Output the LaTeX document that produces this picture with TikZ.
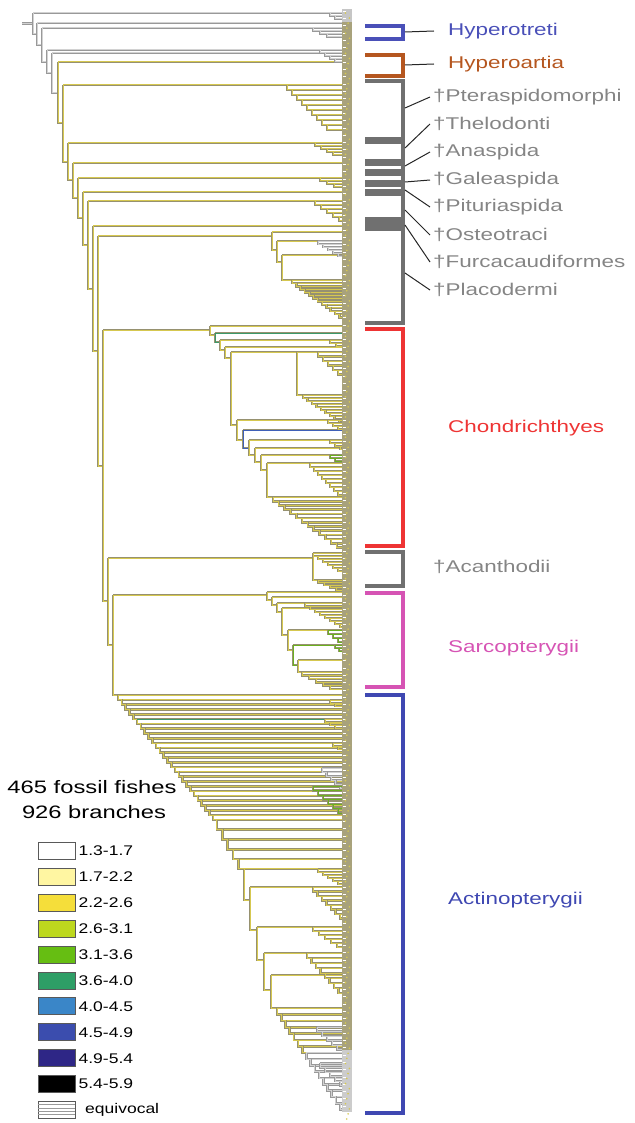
\documentclass[tikz,border=0pt]{standalone}
\usepackage{fontspec}
\setmainfont{Liberation Sans}
\newfontfamily\labfont{Liberation Sans}[FakeStretch=1.32]
\newfontfamily\keyfont{Liberation Sans}[FakeStretch=1.25]
\usetikzlibrary{positioning}

% branch and clade colours
\definecolor{olv}{HTML}{969170}
\definecolor{ylw}{HTML}{D6C850}
\definecolor{tealb}{HTML}{3C9A6A}
\definecolor{grnb}{HTML}{6CB020}
\definecolor{blub}{HTML}{3F60B8}
\definecolor{tipc}{HTML}{A8A27C}
\definecolor{hypc}{HTML}{4A50B8}
\definecolor{lampc}{HTML}{B5561F}
\definecolor{agc}{HTML}{707070}
\definecolor{agt}{HTML}{858585}
\definecolor{chc}{HTML}{EE3434}
\definecolor{sarc}{HTML}{D654B4}
\definecolor{actc}{HTML}{3F48B2}
% legend colours
\definecolor{ka}{HTML}{FFF6A2}
\definecolor{kb}{HTML}{F5DE3A}
\definecolor{kc}{HTML}{BDD81E}
\definecolor{kd}{HTML}{66BE12}
\definecolor{ke}{HTML}{2E9E66}
\definecolor{kf}{HTML}{3A86C8}
\definecolor{kg}{HTML}{3B4DAE}
\definecolor{kh}{HTML}{2E2686}

\newcommand{\tipx}{345}
% staircase clade: [style] x0, y0, steps, dx, dy
\newcommand{\comb}[6][br]{%
  \foreach \ci in {0,...,#4}{%
    \draw[#1] ({#2+\ci*#5},{#3+\ci*#6}) -- (\tipx,{#3+\ci*#6});}%
  \draw[#1] (#2,#3) \foreach \ci in {1,...,#4}{ |- ({#2+\ci*#5},{#3+\ci*#6}) };%
}
% backbone: x/top/bottom/end of top child/next x/style
\newcommand{\spine}[1]{%
  \foreach \sx/\st/\sb/\se/\sn/\ss in {#1}{%
    \draw[\ss] (\sx,\st) -- (\se,\st);
    \draw[\ss] (\sx,\st) -- (\sx,\sb) -- (\sn,\sb);
  }}

\begin{document}
\begin{tikzpicture}[x=1pt,y=-1pt,
  br/.style={draw=olv,double=ylw,double distance=1pt,line width=0.8pt},
  brg/.style={draw=gray!80,double=gray!35,double distance=1pt,line width=0.8pt},
  brt/.style={draw=olv,double=tealb,double distance=1pt,line width=0.8pt},
  brn/.style={draw=olv,double=grnb,double distance=1pt,line width=0.8pt},
  brb/.style={draw=olv,double=blub,double distance=1pt,line width=0.8pt},
  clade/.style={line width=4pt},
  lead/.style={line width=1pt,black!85},
  lab/.style={font=\labfont\fontsize{17}{20}\selectfont,anchor=west,inner sep=0pt},
  keybox/.style={draw=black!65,line width=0.9pt,minimum width=37pt,minimum height=17pt,inner sep=0pt},
  keytxt/.style={font=\keyfont\fontsize{14}{16}\selectfont,inner sep=0pt},
  keyhead/.style={font=\labfont\fontsize{18}{21}\selectfont,inner sep=0pt}]
\useasboundingbox (0,0) rectangle (634,1123);

% root and main backbone
\draw[brg] (22,23.5) -- (33,23.5);
\spine{33/13/34/345/37/brg, 37/23/45/345/42/brg, 42/28/62/313/47/brg,
  47/50/73/320/52/brg, 52/53/93/345/58/brg, 58/62/123/345/63/br,
  63/85/162/287/68/br, 68/143/180/315/73/br, 73/163/198/345/78/br,
  78/178/218/320/83/br, 83/192/245/345/88/br, 88/201/289/315/93/br,
  93/226/351/345/98/br, 98/236/466/272/103/br, 103/330/601/210/108/br,
  108/558/645/313/113/br, 113/595/695/267/118/br}

% agnathans
\comb[brg]{330}{13}{2}{5}{3}
\comb[brg]{313}{28}{3}{7}{3}
\comb[brg]{320}{50}{4}{5}{3}
\comb{287}{85}{9}{5}{5}
\comb{315}{143}{4}{6}{3}
\comb{320}{178}{3}{7}{3}
\comb{315}{201}{5}{6}{4}
\spine{272/232/250/345/277/br, 277/241/262/318/282/br, 282/255/280/345/292/br}
\comb[brg]{318}{241}{5}{5}{3}
\comb{292}{280}{12}{4.3}{3.1}

% Chondrichthyes
\spine{210/326/335/345/215/br, 215/333/342/345/220/brt, 220/340/350/330/225/br,
  225/347/358/345/231/br, 231/352/425/297/237/br, 237/420/440/328/243/br,
  243/430/448/345/249/brb, 249/440/455/330/255/br, 255/448/462/345/261/br,
  261/455/470/330/267/br, 267/463/497/310/273/br}
\draw[br] (297,352) -- (318,352);
\comb{318}{352}{5}{5}{4.5}
\draw[br] (297,352) |- (303,395);
\comb{303}{395}{9}{4.5}{3}
\comb{330}{340}{2}{6}{3}
\comb{328}{420}{3}{5}{3}
\comb{330}{440}{3}{5}{3}
\comb[brn]{330}{455}{2}{5}{3}
\comb{310}{463}{8}{4}{4}
\comb{273}{497}{12}{5.8}{4.2}

% Acanthodii
\draw[br] (313,553) -- (313,580) -- (318,580);
\comb{313}{553}{6}{5}{3}
\comb{318}{580}{4}{6}{2.5}

% Sarcopterygii
\spine{267/592/600/345/272/br, 272/597/605/345/277/br, 277/603/612/305/282/br,
  282/608/635/345/288/br, 288/630/650/328/293/br, 293/645/665/335/298/brn,
  298/660/672/345/302/br}
\comb{305}{603}{8}{5}{3}
\comb[brn]{328}{630}{3}{5}{4}
\comb[brn]{335}{645}{2}{4}{3}
\comb{302}{672}{5}{7}{3.4}

% Actinopterygii
\comb{118}{695}{26}{3.8}{4.8}
\draw[brt] (137,719) -- (\tipx,719);
\comb{330}{700}{2}{5}{3}
\comb{325}{719}{3}{5}{3}
\comb{333}{743}{2}{5}{3}
\comb[brg]{322}{768}{5}{4.5}{4}
\comb[brn]{313}{786}{6}{5}{4.5}
\comb{216.8}{819.8}{5}{5.4}{9.8}
\draw[br] (244,869) -- (244,900) -- (250,900);
\spine{250/887/930/313/257/br, 257/927/960/313/264/br,
  264/953/990/307/271/br, 271/975/1008/345/277/br}
\comb{318}{869}{5}{5}{3}
\comb{313}{887}{7}{4.5}{4.5}
\comb{313}{927}{5}{6}{4}
\comb{307}{953}{8}{4.5}{5}
\comb{277}{1008}{7}{4.2}{6.4}
\comb[brg]{306.4}{1052.8}{9}{4.2}{6.3}
\comb[brg]{317}{1027}{5}{5}{4.5}
\comb[brg]{320}{1063}{5}{5}{4.5}

% tip band
\fill[tipc] (342,9) rectangle (352,1112);
\fill[gray!45] (342,9) rectangle (352,22);
\fill[gray!40] (342,1050) rectangle (352,1112);
\foreach \k in {0,...,150}
  \draw[white,line width=0.5pt] (342.5,{11+\k*7.3}) -- ++(3.5,0);
\foreach \k in {0,...,219}
  \fill[ylw] ({345.5+mod(\k*3,4)*1.3},{13+\k*5.05}) circle (0.9pt);

% clade brackets and names
\draw[clade,hypc] (365,26) -| (403,39) -- (365,39);
\draw[clade,lampc] (365,55) -| (403,76) -- (365,76);
\foreach \ta/\tb in {81/139,142/161,164/171,174/182,185/191,194/219,222/226,229/323}
  \draw[clade,agc] (365,\ta) -| (403,\tb) -- (365,\tb);
\draw[clade,chc] (365,329) -| (403,546) -- (365,546);
\draw[clade,agc] (365,552) -| (403,586) -- (365,586);
\draw[clade,sarc] (365,593) -| (403,687) -- (365,687);
\draw[clade,actc] (365,695) -| (403,1113) -- (365,1113);

\node[lab,text=hypc] (hyo) at (448,31) {Hyperotreti};
\node[lab,text=lampc] (hya) at (448,64) {Hyperoartia};
\node[lab,text=agt] (ptr) at (433,97) {†Pteraspidomorphi};
\node[lab,text=agt] (thl) at (433,124) {†Thelodonti};
\node[lab,text=agt] (ana) at (433,152) {†Anaspida};
\node[lab,text=agt] (gal) at (433,180) {†Galeaspida};
\node[lab,text=agt] (pit) at (433,207) {†Pituriaspida};
\node[lab,text=agt] (ost) at (433,235) {†Osteotraci};
\node[lab,text=agt] (fur) at (433,262) {†Furcacaudiformes};
\node[lab,text=agt] (plc) at (433,290) {†Placodermi};
\node[lab,text=chc] (cho) at (448,428) {Chondrichthyes};
\node[lab,text=agt] (aca) at (433,567) {†Acanthodii};
\node[lab,text=sarc] (sar) at (448,648) {Sarcopterygii};
\node[lab,text=actc] (act) at (448,900) {Actinopterygii};

\draw[lead] (405,32) -- ([xshift=-14pt]hyo.west);
\draw[lead] (405,65) -- ([xshift=-14pt]hya.west);
\foreach \lp/\ly in {ptr/108,thl/148,ana/166,gal/182,pit/190,ost/210,fur/225,plc/273}
  \draw[lead] (405,\ly) -- ([xshift=-3pt]\lp.west);

% legend
\node[keyhead] (head1) at (92,787) {465 fossil fishes};
\node[keyhead] (head2) at (94,812) {926 branches};
\foreach \lo/\co [count=\kn from 0] in {1.3-1.7/white,1.7-2.2/ka,2.2-2.6/kb,
    2.6-3.1/kc,3.1-3.6/kd,3.6-4.0/ke,4.0-4.5/kf,4.5-4.9/kg,4.9-5.4/kh,5.4-5.9/black}{
  \node[keybox,fill=\co] (key\kn) at (56.5,{851+25.9*\kn}) {};
  \node[keytxt,right=3pt of key\kn] (keyt\kn) {\lo};
}
\node[keybox,fill=white] (keyq) at (56.5,1110) {};
\foreach \s in {1,...,4}
  \draw[gray!80,line width=0.7pt] ([yshift=-\s*3.4pt]keyq.north west) -- ([yshift=-\s*3.4pt]keyq.north east);
\node[keytxt,anchor=west] (keyqt) at (85,1110) {equivocal};
\end{tikzpicture}
\end{document}
